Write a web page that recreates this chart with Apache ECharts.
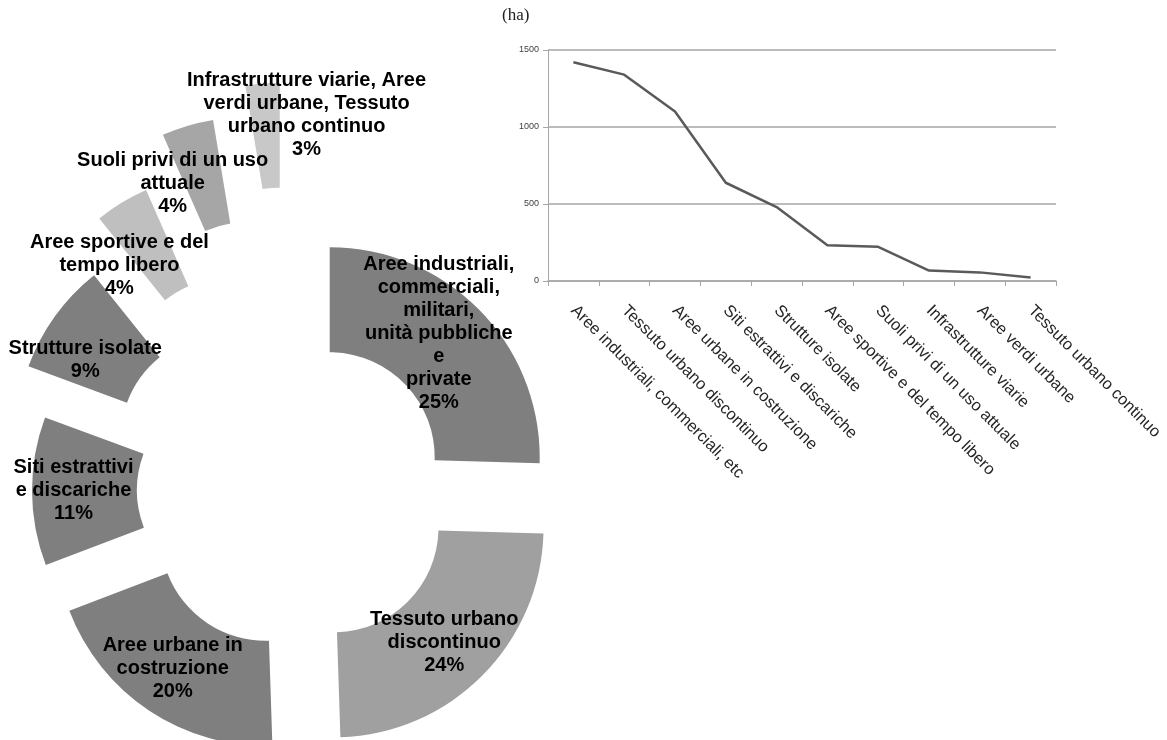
<!DOCTYPE html>
<html lang="it">

<head>
	<meta charset="UTF-8" />
	<script src="https://cdn.jsdelivr.net/npm/echarts@6/dist/echarts.min.js"></script>
	<title>Consumo di suolo</title>
	<style>
		html, body { margin: 0; padding: 0; background: #fff; }
	</style>
</head>

<body>
	<div id="main" style="width: 1167px; height: 740px"></div>

	<script type="text/javascript">
		// torta: ettari per gruppo (le ultime tre voci della linea sono unite)
		const pieNames = [
			'Aree industriali,\ncommerciali,\nmilitari,\nunità pubbliche\ne\nprivate',
			'Tessuto urbano\ndiscontinuo',
			'Aree urbane in\ncostruzione',
			'Siti estrattivi\ne discariche',
			'Strutture isolate',
			'Aree sportive e del\ntempo libero',
			'Suoli privi di un uso\nattuale',
			'Infrastrutture viarie, Aree\nverdi urbane, Tessuto\nurbano continuo',
		];
		const pieValues = [1420, 1340, 1100, 638, 480, 232, 222, 146];

		// linea: ettari per categoria
		const lineCats = [
			'Aree industriali, commerciali, etc',
			'Tessuto urbano discontinuo',
			'Aree urbane in costruzione',
			'Siti estrattivi e discariche',
			'Strutture isolate',
			'Aree sportive e del tempo libero',
			'Suoli privi di un uso attuale',
			'Infrastrutture viarie',
			'Aree verdi urbane',
			'Tessuto urbano continuo',
		];
		const lineValues = [1420, 1340, 1100, 638, 480, 232, 222, 68, 56, 22];
		const yMin = 0, yMax = 1500, yStep = 500;

		// stile delle fette (colori, esplosione, spostamento etichetta)
		const pieColors = ['#7f7f7f', '#a0a0a0', '#7f7f7f', '#7f7f7f', '#7f7f7f', '#bfbfbf', '#a6a6a6', '#c8c8c8'];
		const explode = [47, 53, 55, 54, 87, 126, 170, 198];
		const labelShift = [[-6, -12], [-3, 2], [-4, -1], [-8, -1], [-10, 15], [-28, 20], [-29, 10], [40, -18]];

		// una serie per fetta, così ogni fetta ha la sua esplosione
		const pieSeries = pieValues.map((_, k) => ({
			type: 'pie',
			center: [296, 490],
			radius: [105, 210],
			startAngle: 90,
			clockwise: true,
			silent: true,
			animation: false,
			avoidLabelOverlap: false,
			minShowLabelAngle: 0,
			percentPrecision: 0,
			selectedMode: 'multiple',
			selectedOffset: explode[k],
			itemStyle: { borderWidth: 0 },
			label: {
				position: 'inside',
				formatter: '{b}\n{d}%',
				fontFamily: 'Liberation Sans',
				fontSize: 20,
				fontWeight: 'bold',
				lineHeight: 23,
				color: '#000',
				overflow: 'none',
			},
			labelLayout: () => ({ dx: labelShift[k][0], dy: labelShift[k][1], hideOverlap: false }),
			labelLine: { show: false },
			emphasis: { disabled: true },
			data: pieValues.map((v, i) => ({
				name: pieNames[i],
				value: v,
				selected: i === k,
				itemStyle: { color: i === k ? pieColors[i] : 'rgba(0,0,0,0)' },
				label: { show: i === k },
			})),
		}));

		const mainChart = echarts.init(document.getElementById('main'));
		const option = {
			animation: false,
			title: {
				text: '(ha)',
				left: 497,
				top: 2,
				textStyle: {
					fontFamily: 'Liberation Serif',
					fontSize: 17,
					fontWeight: 'normal',
					color: '#222',
				},
			},
			grid: {
				left: 548,
				right: 111,
				top: 50,
				bottom: 459,
				containLabel: false,
			},
			xAxis: {
				type: 'category',
				data: lineCats,
				boundaryGap: true,
				axisLine: { lineStyle: { color: '#a6a6a6', width: 1.5 } },
				axisTick: { show: true, length: 5, lineStyle: { color: '#a6a6a6' } },
				axisLabel: {
					interval: 0,
					rotate: -45,
					margin: 27,
					fontFamily: 'Liberation Sans',
					fontSize: 16.5,
					color: '#262626',
				},
			},
			yAxis: {
				type: 'value',
				min: yMin,
				max: yMax,
				interval: yStep,
				axisLine: { show: true, lineStyle: { color: '#a6a6a6' } },
				axisTick: { show: true, length: 5, lineStyle: { color: '#a6a6a6' } },
				axisLabel: {
					fontFamily: 'Liberation Sans',
					fontSize: 9,
					color: '#404040',
					margin: 9,
					formatter: v => String(v),
				},
				splitLine: { lineStyle: { color: '#a6a6a6', width: 1.5 } },
			},
			series: [
				...pieSeries,
				{
					type: 'line',
					data: lineValues,
					showSymbol: false,
					symbol: 'none',
					lineStyle: { color: '#5a5a5a', width: 2.5 },
					silent: true,
				},
			],
		};
		mainChart.setOption(option);
	</script>
</body>

</html>
